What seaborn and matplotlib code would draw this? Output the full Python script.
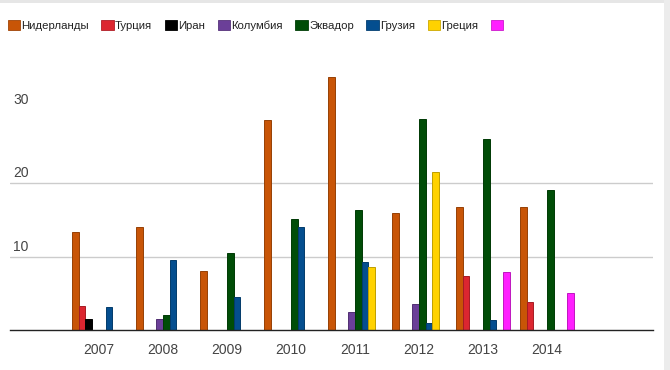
import pandas as pd
import matplotlib
matplotlib.use("Agg")
import matplotlib.pyplot as plt
import matplotlib.colors as mcolors
from matplotlib.patches import Patch, Rectangle
import seaborn as sns

years = ['2007', '2008', '2009', '2010', '2011', '2012', '2013', '2014']
countries = ['Нидерланды', 'Турция', 'Иран', 'Колумбия', 'Эквадор', 'Грузия', 'Греция', '']
colors = ['#c85507', '#dc2630', '#000000', '#6b3f98', '#004d07', '#044e8f', '#ffd200', '#ff1fff']

# values per country, one per year
netherlands = [13.4, 14.1, 8.1, 28.6, 34.5, 15.9, 16.8, 16.8]
turkey = [3.3, 0, 0, 0, 0, 0, 7.3, 3.8]
iran = [1.5, 0, 0, 0, 0, 0, 0, 0]
colombia = [0, 1.5, 0, 0, 2.5, 3.6, 0, 0]
ecuador = [0, 2.0, 10.5, 15.1, 16.4, 28.8, 26.0, 19.1]
georgia = [3.1, 9.5, 4.5, 14.1, 9.3, 0.9, 1.3, 0]
greece = [0, 0, 0, 0, 8.6, 21.5, 0, 0]
other = [0, 0, 0, 0, 0, 0, 7.9, 5.0]
series = [netherlands, turkey, iran, colombia, ecuador, georgia, greece, other]

y_ticks = [10, 20, 30]
grid_lines = [10, 20]

rows = []
for name, vals in zip(countries, series):
    for yr, v in zip(years, vals):
        if v > 0:
            rows.append({'year': yr, 'country': name, 'value': v})
df = pd.DataFrame(rows)

sns.set_style('white')
plt.rcParams['font.family'] = ['Liberation Sans', 'DejaVu Sans']

fig = plt.figure(figsize=(6.7, 3.7), dpi=100)
ax = fig.add_axes([10 / 670, 40 / 370, 643 / 670, 280 / 370])

palette = dict(zip(countries, colors))
sns.barplot(data=df, x='year', y='value', hue='country', order=years,
            hue_order=countries, palette=palette, saturation=1,
            width=0.84, gap=0, dodge=True, errorbar=None, legend=False, ax=ax)

# darker outline like the original bars
for p in ax.patches:
    fc = mcolors.to_rgb(p.get_facecolor())
    p.set_edgecolor(tuple(c * 0.75 for c in fc))
    p.set_linewidth(0.7)

ax.set_xlim(-1.39, 8.66)
ax.set_ylim(0, 38.2)

for g in grid_lines:
    ax.axhline(g, color='#cccccc', lw=1.0, zorder=0)

ax.set_yticks([])
for t in y_ticks:
    ax.text(0.005, t + 0.4, str(t), transform=ax.get_yaxis_transform(),
            ha='left', va='bottom', fontsize=10, color='#444444')

ax.set_xlabel('')
ax.set_ylabel('')
ax.tick_params(axis='x', length=0, pad=9, labelsize=10, labelcolor='#444444')
for s in ['top', 'right', 'left']:
    ax.spines[s].set_visible(False)
ax.spines['bottom'].set_color('#222222')
ax.spines['bottom'].set_linewidth(1.0)

handles = [Patch(facecolor=c, edgecolor=tuple(x * 0.8 for x in mcolors.to_rgb(c)), linewidth=0.6)
           for c in colors]
fig.legend(handles, countries, loc='upper left', bbox_to_anchor=(-0.004, 0.975),
           ncol=8, frameon=False, fontsize=8.2, handlelength=1.1, handleheight=1.1,
           handletextpad=0.1, columnspacing=1.1, labelcolor='#222222')

# light frame of the screenshot
fig.patches.append(Rectangle((0, 1 - 3 / 370), 1, 3 / 370, transform=fig.transFigure,
                             facecolor='#e6e6e6', edgecolor='none'))
fig.patches.append(Rectangle((1 - 6 / 670, 0), 6 / 670, 1, transform=fig.transFigure,
                             facecolor='#ececec', edgecolor='none'))

fig.savefig('out.png', dpi=100)
